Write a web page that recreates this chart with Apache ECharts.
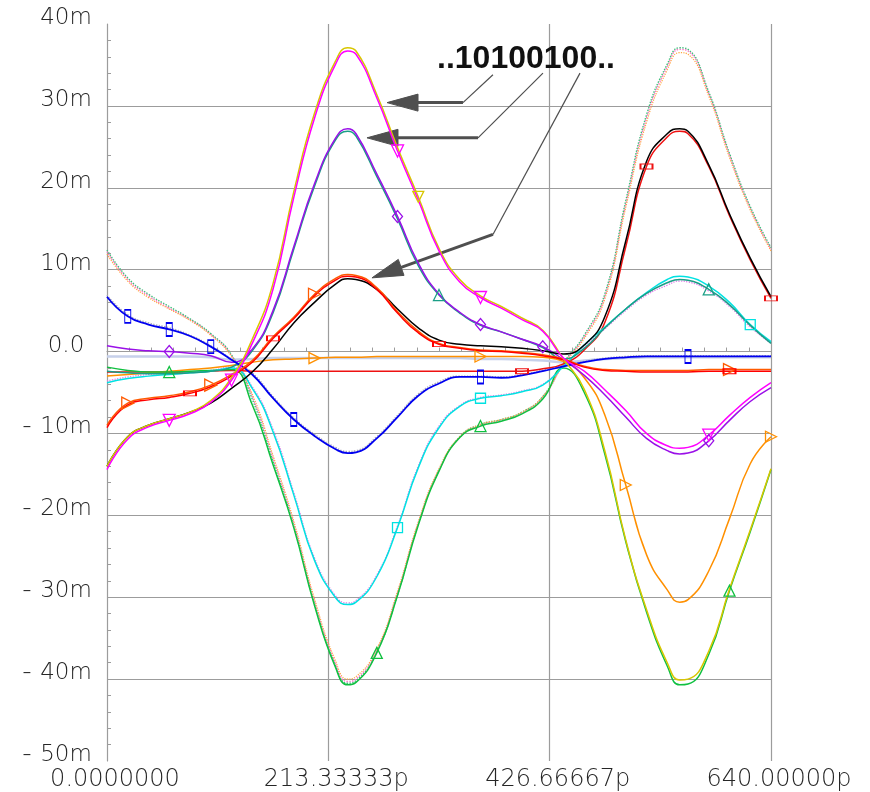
<!DOCTYPE html>
<html>
<head>
<meta charset="utf-8">
<script src="https://cdn.jsdelivr.net/npm/echarts@6/dist/echarts.min.js"></script>
<style>
  html, body { margin: 0; padding: 0; background: #ffffff; }
  #chart { width: 870px; height: 792px; }
</style>
</head>
<body>
<div id="chart"></div>
<script>
// Sample times (ps) shared by every waveform
const timePs = [0, 20, 40, 60, 80, 100, 120, 140, 160, 180, 200, 220, 232, 240, 260, 280, 300, 320, 340,
  360, 380, 400, 420, 440, 460, 480, 500, 520, 540, 552, 560, 580, 600, 620, 640];

// Waveform values (mV) at each sample time
const wMagenta = [-14.4, -10.7, -9.2, -8.4, -7.6, -6.2, -3.5, 1.0, 7.6, 18.8, 28.5, 35.0, 36.7, 36.3, 31.0, 24.5, 18.5, 12.3, 8.5,
  6.6, 5.3, 3.9, 2.5, -0.8, -2.4, -4.7, -7.2, -10.0, -11.5, -11.8, -11.7, -10.2, -7.8, -5.6, -3.8];
const wYellow = [-14.0, -10.4, -9.0, -8.2, -7.4, -6.0, -3.2, 1.5, 8.3, 19.5, 29.1, 35.4, 37.1, 36.7, 31.4, 24.9, 18.9, 12.6, 8.8,
  6.8, 5.5, 4.1, 2.6, -0.9, -4.6, -12.2, -23.0, -31.5, -38.0, -40.1, -40.0, -36.6, -29.0, -21.8, -14.3];
const wPurple = [0.7, 0.3, 0.1, 0.0, -0.2, -0.5, -1.3, 0.3, 5.0, 12.8, 20.5, 26.0, 27.2, 26.6, 21.7, 16.5, 10.8, 7.0, 4.8,
  3.3, 2.4, 1.5, 0.6, -1.0, -2.9, -5.3, -8.0, -10.6, -12.1, -12.5, -12.4, -10.9, -8.4, -6.1, -4.4];
const wTeal = [-2.4, -2.6, -2.7, -2.7, -2.6, -2.4, -1.9, 0.1, 4.7, 12.5, 20.2, 25.8, 26.9, 26.3, 21.4, 16.2, 10.5, 6.9, 4.7,
  3.2, 2.4, 1.5, 0.5, -0.9, 0.4, 2.9, 5.2, 7.1, 8.4, 8.8, 8.7, 7.6, 5.7, 3.2, 1.0];
const wCyan = [-3.8, -3.3, -3.0, -2.8, -2.6, -2.4, -2.0, -4.5, -9.8, -17.5, -25.5, -30.0, -30.9, -30.6, -27.5, -21.5, -14.2, -9.3, -6.7,
  -5.7, -5.4, -4.9, -4.1, -1.8, 0.8, 3.0, 5.2, 7.2, 8.8, 9.2, 9.1, 8.0, 6.0, 3.3, 1.2];
const wGreen = [-1.9, -2.3, -2.5, -2.5, -2.4, -2.3, -2.2, -6.5, -13.8, -21.5, -31.0, -38.5, -40.7, -40.4, -36.8, -29.8, -21.2, -14.6, -10.5,
  -9.1, -8.5, -7.6, -5.8, -2.0, -5.0, -12.6, -23.2, -31.8, -38.4, -40.7, -40.6, -37.0, -29.2, -22.0, -14.4];
const wOrange = [-3.0, -2.8, -2.6, -2.4, -2.2, -2.0, -1.7, -1.3, -1.0, -0.9, -0.8, -0.7, -0.7, -0.7, -0.6, -0.6, -0.6, -0.6, -0.6,
  -0.6, -0.6, -0.6, -0.7, -1.2, -3.2, -7.8, -16.3, -24.8, -29.1, -30.6, -30.3, -26.8, -20.4, -13.7, -10.4];
const wRed = [-9.3, -6.5, -5.9, -5.6, -5.1, -4.3, -3.0, -1.3, 1.6, 4.0, 6.8, 8.7, 9.2, 9.1, 7.6, 4.7, 2.3, 0.9, 0.4,
  0.1, 0.0, -0.2, -0.5, -1.0, -1.9, -2.3, -2.4, -2.5, -2.5, -2.5, -2.5, -2.4, -2.4, -2.4, -2.4];
const wOrangeRed = [-9.0, -6.3, -5.7, -5.4, -4.9, -4.1, -2.8, -1.1, 1.8, 4.2, 7.0, 8.9, 9.4, 9.3, 7.8, 4.9, 2.5, 1.0, 0.5,
  0.2, 0.1, -0.1, -0.4, -0.9, -1.8, -2.2, -2.3, -2.3, -2.3, -2.3, -2.3, -2.2, -2.2, -2.2, -2.2];
const wBlack = [-14.0, -10.4, -9.0, -8.2, -7.4, -6.3, -4.5, -2.5, 0.3, 3.5, 6.0, 8.2, 8.9, 8.8, 7.6, 5.2, 2.9, 1.4, 0.9,
  0.7, 0.6, 0.4, 0.1, -0.3, 0.8, 4.3, 13.5, 23.2, 26.6, 27.2, 26.9, 22.8, 16.8, 11.4, 6.7];
const wRedFlat = [-2.5, -2.5, -2.5, -2.5, -2.5, -2.4, -2.3, -2.4, -2.4, -2.4, -2.4, -2.4, -2.4, -2.4, -2.4, -2.4, -2.4, -2.4, -2.4,
  -2.4, -2.4, -2.4, -2.1, -1.5, 0.2, 3.6, 12.8, 22.6, 26.2, 26.9, 26.6, 22.6, 16.6, 11.2, 6.5];
const wBlue = [6.7, 4.3, 3.3, 2.7, 1.9, 0.6, -1.0, -2.8, -5.7, -8.3, -10.3, -11.9, -12.4, -12.3, -10.6, -8.0, -5.4, -3.9, -3.1,
  -3.1, -3.2, -2.9, -2.4, -1.8, -1.3, -0.9, -0.7, -0.6, -0.6, -0.6, -0.6, -0.6, -0.6, -0.6, -0.6];
const wSteel = [-0.6, -0.6, -0.6, -0.6, -0.6, -0.7, -1.0, -0.9, -0.8, -0.8, -0.8, -0.8, -0.8, -0.8, -0.8, -0.8, -0.8, -0.8, -0.8,
  -0.9, -0.9, -1.0, -1.1, -1.3, -1.1, -0.9, -0.8, -0.7, -0.7, -0.7, -0.7, -0.7, -0.7, -0.7, -0.7];
const wPinkDot = [12.2, 8.8, 6.8, 5.3, 3.9, 2.1, -0.5, -5.5, -13.0, -21.0, -30.5, -38.0, -40.3, -40.0, -36.5, -29.5, -21.0, -14.5, -10.5,
  -9.0, -8.4, -7.5, -5.6, -1.5, 1.8, 6.8, 18.0, 28.5, 34.8, 36.9, 36.7, 31.5, 24.0, 17.5, 12.5];
const wGreenDot = [12.4, 9.0, 7.0, 5.5, 4.0, 2.2, -0.4, -5.8, -13.4, -21.3, -30.8, -38.3, -40.5, -40.2, -36.7, -29.7, -21.1, -14.5, -10.4,
  -8.9, -8.3, -7.4, -5.5, -1.4, 2.0, 7.1, 18.4, 28.9, 35.1, 37.1, 36.9, 31.7, 24.2, 17.7, 12.7];
const wOrangeDot = [11.9, 8.6, 6.6, 5.2, 3.8, 2.0, -0.6, -5.2, -12.7, -20.7, -30.2, -37.7, -40.0, -39.7, -36.3, -29.3, -20.8, -14.3, -10.4,
  -8.9, -8.3, -7.4, -5.5, -1.6, 1.6, 6.5, 17.6, 28.0, 34.4, 36.5, 36.3, 31.2, 23.7, 17.3, 12.3];
const wGrayDot = [6.9, 4.5, 3.5, 2.9, 2.0, 0.7, -0.9, -2.6, -5.5, -8.1, -10.1, -11.7, -12.2, -12.1, -10.4, -7.8, -5.2, -3.7, -3.0,
  -3.0, -3.1, -2.8, -2.3, -1.7, -1.2, -0.8, -0.6, -0.5, -0.5, -0.5, -0.5, -0.5, -0.5, -0.5, -0.5];
const wPinkDot2 = [-3.6, -3.1, -2.8, -2.6, -2.5, -2.3, -1.9, -4.3, -9.5, -17.2, -25.2, -29.8, -30.7, -30.4, -27.3, -21.3, -14.0, -9.1, -6.6,
  -5.6, -5.3, -4.8, -4.0, -1.7, 0.6, 2.8, 5.0, 6.9, 8.1, 8.6, 8.5, 7.4, 5.5, 3.0, 1.0];

// Axis tick labels
const xTickLabels = ['0.0000000', '213.33333p', '426.66667p', '640.00000p'];
const yTickValues = [-50, -40, -30, -20, -10, 0, 10, 20, 30, 40];
const yTickLabels = ['-50m', '-40m', '-30m', '-20m', '-10m', '0.0', '10m', '20m', '30m', '40m'];

const annotationText = '..10100100..';

const chart = echarts.init(document.getElementById('chart'), null, { renderer: 'canvas' });

function wave(values, color, opt) {
  opt = opt || {};
  const marks = opt.marks || [];
  return {
    type: 'line',
    data: timePs.map((t, i) => [t, values[i]]),
    smooth: 0.5,
    showSymbol: marks.length > 0,
    showAllSymbol: true,
    symbol: opt.symbol || 'none',
    symbolSize: (v, p) => (marks.indexOf(p.dataIndex) >= 0 ? (opt.size || 10) : 0),
    symbolRotate: opt.rotate || 0,
    symbolKeepAspect: true,
    itemStyle: { color: 'rgba(0,0,0,0)', borderColor: color, borderWidth: 1.3 },
    lineStyle: { color: color, width: opt.width || 1.5, type: opt.type || 'solid' },
    silent: true,
    emphasis: { disabled: true },
    animation: false
  };
}

const labelFont = '"DejaVu Sans", "Liberation Sans", sans-serif';

const series = [
  wave(wSteel, '#c6d0ea', { width: 2.5 }),
  wave(wPinkDot, '#ff70c8', { type: 'dotted', width: 1.4 }),
  wave(wGreenDot, '#3cbf7a', { type: 'dotted', width: 1.4 }),
  wave(wOrangeDot, '#ffa640', { type: 'dotted', width: 1.2 }),
  wave(wGrayDot, '#a8a8b8', { type: 'dotted', width: 1.4 }),
  wave(wPinkDot2, '#e27be8', { type: 'dotted', width: 1.3 }),
  wave(wRedFlat, '#ee1111', { symbol: 'rect', size: [12, 5], marks: [21, 27, 34] }),
  wave(wOrange, '#ff9000', { symbol: 'triangle', size: 11, rotate: -90, marks: [10, 19, 26, 34] }),
  wave(wGreen, '#10c040', { symbol: 'triangle', size: 11, marks: [3, 14, 19, 32] }),
  wave(wCyan, '#00e2e2', { symbol: 'rect', size: [10, 10], marks: [15, 19, 33] }),
  wave(wTeal, '#1a9e86', { symbol: 'triangle', size: 11, marks: [17, 31] }),
  wave(wPurple, '#9a10e8', { symbol: 'diamond', size: [10, 12], marks: [3, 15, 19, 22, 31] }),
  wave(wBlue, '#0000f0', { symbol: 'rect', size: [6, 13], marks: [1, 3, 5, 9, 19, 30], width: 1.8 }),
  wave(wBlack, '#000000', {}),
  wave(wOrangeRed, '#ff5a00', { symbol: 'triangle', size: 12, rotate: -90, marks: [1, 5, 10, 32] }),
  wave(wRed, '#ff0000', { symbol: 'rect', size: [12, 5], marks: [4, 8, 17, 32] }),
  wave(wYellow, '#d8c600', { symbol: 'triangle', size: 11, rotate: 180, marks: [16] }),
  wave(wMagenta, '#ff00ff', { symbol: 'triangle', size: 12, rotate: 180, marks: [3, 6, 15, 19, 31] })
];

const option = {
  backgroundColor: '#ffffff',
  animation: false,
  grid: { left: 107, right: 99, top: 24, bottom: 30 },
  xAxis: {
    type: 'value',
    min: 0,
    max: 640,
    interval: 640 / 3,
    axisLine: { show: true, lineStyle: { color: '#9c9c9c', width: 1.2 } },
    axisTick: { show: false, inside: true },
    minorTick: { show: true, splitNumber: 10, length: 4, lineStyle: { color: '#9c9c9c', width: 1 } },
    splitLine: { show: true, showMinLine: false, showMaxLine: true, lineStyle: { color: '#9c9c9c', width: 1.2 } },
    axisLabel: {
      margin: 7,
      padding: [0, 0, 0, 16],
      color: '#262626',
      fontFamily: labelFont,
      fontSize: 24,
      fontWeight: 200,
      showMinLabel: true,
      showMaxLabel: true,
      formatter: (v, i) => xTickLabels[i]
    }
  },
  yAxis: {
    type: 'value',
    min: -50,
    max: 40,
    interval: 10,
    axisLine: { show: true, lineStyle: { color: '#9c9c9c', width: 1.2 } },
    axisTick: { show: false, inside: true },
    minorTick: { show: true, splitNumber: 5, length: 4, lineStyle: { color: '#9c9c9c', width: 1 } },
    splitLine: { show: true, showMinLine: false, showMaxLine: false, lineStyle: { color: '#9c9c9c', width: 1.2 } },
    axisLabel: {
      align: 'left',
      margin: 89,
      padding: [0, 0, 12, 0],
      color: '#262626',
      fontFamily: labelFont,
      fontSize: 23,
      fontWeight: 200,
      formatter: (v) => {
        const s = yTickLabels[yTickValues.indexOf(v)];
        return s.charAt(0) === '-' ? '{s|-}{n|' + s.slice(1) + '}' : '{s| }{n|' + s + '}';
      },
      rich: {
        s: { width: 18, align: 'center', fontFamily: labelFont, fontSize: 26, fontWeight: 200, color: '#262626' },
        n: { width: 60, align: 'left', fontFamily: labelFont, fontSize: 23, fontWeight: 200, color: '#262626' }
      }
    }
  },
  series: series
};

chart.setOption(option);

// Callout: bit-pattern label with three leader arrows pointing at the
// upper waveform families (coordinates in ps / mV).
const callouts = [
  { from: [372.0, 33.8], bend: [343.1, 30.4], tip: [269.9, 30.4] },
  { from: [420.2, 34.0], bend: [357.6, 26.1], tip: [250.6, 26.1] },
  { from: [455.9, 34.0], bend: [372.0, 14.3], tip: [255.4, 9.0] }
];
const labelAnchor = [318.1, 35.7];

function toPx(p) {
  return chart.convertToPixel({ xAxisIndex: 0, yAxisIndex: 0 }, p);
}

const graphics = [];
const arrowColor = '#4f4f4f';
const headLen = 31, headHalf = 8.5;
callouts.forEach((c) => {
  const a = toPx(c.from), b = toPx(c.bend), t = toPx(c.tip);
  const dx = b[0] - t[0], dy = b[1] - t[1];
  const len = Math.sqrt(dx * dx + dy * dy);
  const ux = dx / len, uy = dy / len;
  const base = [t[0] + ux * headLen, t[1] + uy * headLen];
  const nx = -uy, ny = ux;
  graphics.push({
    type: 'polyline', silent: true,
    shape: { points: [a, b] },
    style: { stroke: arrowColor, lineWidth: 1.2, fill: null }
  });
  graphics.push({
    type: 'polyline', silent: true,
    shape: { points: [b, base] },
    style: { stroke: arrowColor, lineWidth: 3, fill: null }
  });
  graphics.push({
    type: 'polygon', silent: true,
    shape: { points: [t, [base[0] + nx * headHalf, base[1] + ny * headHalf], [base[0] - nx * headHalf, base[1] - ny * headHalf]] },
    style: { fill: arrowColor, stroke: arrowColor, lineWidth: 1 }
  });
});
const lp = toPx(labelAnchor);
graphics.push({
  type: 'text', silent: true,
  x: lp[0], y: lp[1],
  style: {
    text: annotationText,
    font: 'bold 32px "Liberation Sans", Arial, sans-serif',
    fill: '#111111',
    align: 'left',
    verticalAlign: 'middle'
  }
});
chart.setOption({ graphic: graphics });
</script>
</body>
</html>
